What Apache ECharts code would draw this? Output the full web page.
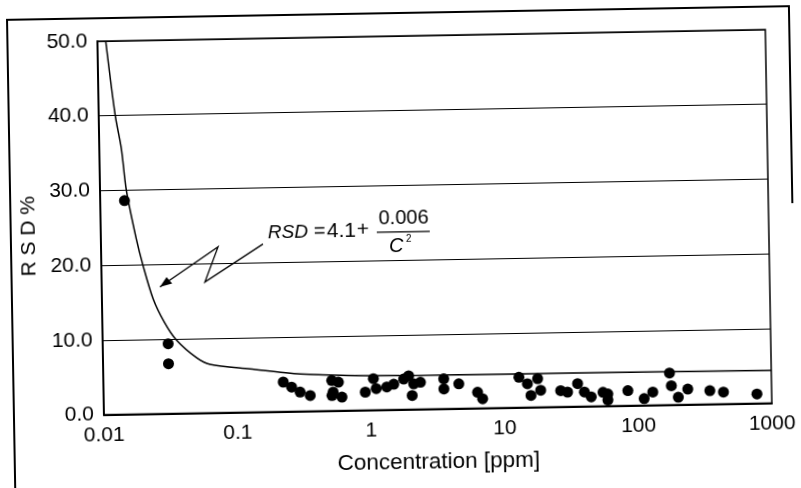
<!DOCTYPE html>
<html>
<head>
<meta charset="utf-8">
<script src="https://cdn.jsdelivr.net/npm/echarts@6/dist/echarts.min.js"></script>
<style>
    * { margin: 0; padding: 0; }
    html, body { background: #fff; overflow: hidden; }
    #main { width: 801px; height: 488px; transform: rotate(-1deg); transform-origin: 50% 50%; }
</style>
</head>
<body>
<div id="main"></div>
<script>
    // measured points (concentration ppm, RSD %)
    var concData = [0.0152, 0.0309, 0.0309, 0.222, 0.256, 0.296, 0.352, 0.512, 0.574, 0.523,
        0.512, 0.608, 0.91, 1.05, 1.1, 1.32, 1.49, 1.77, 1.93, 2.1,
        2.04, 2.36, 3.53, 3.53, 4.57, 6.3, 6.86, 12.9, 14.9, 15.8,
        17.8, 18.7, 26.4, 29.7, 35.4, 39.7, 44.6, 54.7, 59.4, 59.4,
        84, 111, 129, 173, 178, 200, 236, 345, 436, 776];
    var rsdData = [28.6, 9.35, 6.67, 3.95, 3.25, 2.57, 2.09, 4.04, 3.8, 2.49,
        2.03, 1.8, 2.41, 4.19, 2.85, 3.05, 3.4, 4.08, 4.5, 3.4,
        1.85, 3.6, 4.0, 2.66, 3.3, 2.14, 1.25, 4.04, 3.15, 1.58,
        3.8, 2.25, 2.15, 1.94, 3.05, 1.92, 1.25, 1.83, 1.6, 0.8,
        2.0, 0.9, 1.75, 4.26, 2.55, 1.0, 2.07, 1.8, 1.58, 1.25];
    // fitted curve RSD = 4.1 + 0.006/C^2
    var curveConc = [0.01154, 0.0133, 0.01462, 0.01574, 0.01844, 0.0205, 0.02417, 0.0292, 0.03574, 0.0502, 0.0631, 0.1253, 0.3, 1.66, 10, 100, 1000];
    var curveRsd = [50, 40, 35.6, 30, 23.4, 19.9, 15.4, 12.2, 9.8, 7.4, 6.5, 5.8, 5.0, 4.55, 4.5, 4.45, 4.4];
    var yTicks = [0, 10, 20, 30, 40, 50];
    var xTicks = [0.01, 0.1, 1, 10, 100, 1000];

    var points = concData.map(function (c, i) { return [c, rsdData[i]]; });
    var curve = curveConc.map(function (c, i) { return [c, curveRsd[i]]; });

    var font = '"Liberation Sans", Arial, sans-serif';
    var txt = function (s, x, y, size, italic) {
        return {
            type: 'text', left: x, top: y, silent: true,
            style: { text: s, fontSize: size, fontFamily: font, fontStyle: italic ? 'italic' : 'normal', fill: '#000' }
        };
    };
    var chart = echarts.init(document.getElementById('main'));
    chart.setOption({
        backgroundColor: '#fff',
        animation: false,
        grid: {
            left: 101, top: 36, right: 32, bottom: 78.5,
            show: true, borderColor: '#000', borderWidth: 1.5
        },
        xAxis: {
            type: 'log',
            logBase: 10,
            min: xTicks[0],
            max: xTicks[xTicks.length - 1],
            name: 'Concentration [ppm]',
            nameLocation: 'middle',
            nameGap: 42,
            nameTextStyle: { color: '#000', fontSize: 22.5, fontFamily: font },
            axisLine: { lineStyle: { color: '#000', width: 2 } },
            axisTick: { show: false },
            splitLine: { show: false },
            axisLabel: {
                color: '#000', fontSize: 21, fontFamily: font, margin: 10,
                formatter: function (v) { return String(parseFloat(v.toPrecision(6))); }
            }
        },
        yAxis: {
            type: 'value',
            min: yTicks[0],
            max: yTicks[yTicks.length - 1],
            interval: 10,
            name: 'R S D %',
            nameLocation: 'middle',
            nameGap: 59,
            nameTextStyle: { color: '#000', fontSize: 21, fontFamily: font, padding: [0, 14, 0, 0] },
            axisLine: { show: true, lineStyle: { color: '#000', width: 2 } },
            axisTick: { show: false },
            splitLine: { lineStyle: { color: '#000', width: 1 } },
            axisLabel: {
                color: '#000', fontSize: 21, fontFamily: font, margin: 10,
                padding: [10, 0, 0, 0],
                formatter: function (v) { return v.toFixed(1); }
            }
        },
        series: [
            {
                type: 'line',
                data: curve,
                smooth: 0.3,
                showSymbol: false,
                lineStyle: { color: '#000', width: 1.5 },
                z: 3
            },
            {
                type: 'scatter',
                data: points,
                symbol: 'circle',
                symbolSize: 11,
                itemStyle: { color: '#000', opacity: 1 },
                z: 4
            }
        ],
        graphic: [
            // outer frame of the figure
            {
                type: 'polyline', silent: true,
                shape: { points: [[11, 495], [11, 13], [793, 13], [793, 210]] },
                style: { stroke: '#000', lineWidth: 2, fill: null }
            },
            {
                type: 'line', silent: true,
                shape: { x1: 500, y1: 490, x2: 810, y2: 490 },
                style: { stroke: '#000', lineWidth: 2 }
            },
            // equation
            txt('RSD', 268, 221, 19, true),
            txt('=', 314, 220, 20, false),
            txt('4.1', 327, 220, 21, false),
            txt('+', 357, 219, 21, false),
            txt('0.006', 379, 208, 20, false),
            {
                type: 'line', silent: true,
                shape: { x1: 377, y1: 231.8, x2: 430, y2: 231.8 },
                style: { stroke: '#000', lineWidth: 1.2 }
            },
            txt('C', 389, 236, 20, true),
            txt('2', 406, 234, 10, false),
            // zigzag arrow
            {
                type: 'polyline', silent: true,
                shape: { points: [[263, 241.6], [204.3, 278.6], [218, 243.8], [159.2, 282.8]] },
                style: { stroke: '#000', lineWidth: 1.3, fill: null }
            },
            {
                type: 'polygon', silent: true,
                shape: { points: [[159.2, 282.8], [171.5, 279.5], [166, 273]] },
                style: { fill: '#000' }
            }
        ]
    });
</script>
</body>
</html>
